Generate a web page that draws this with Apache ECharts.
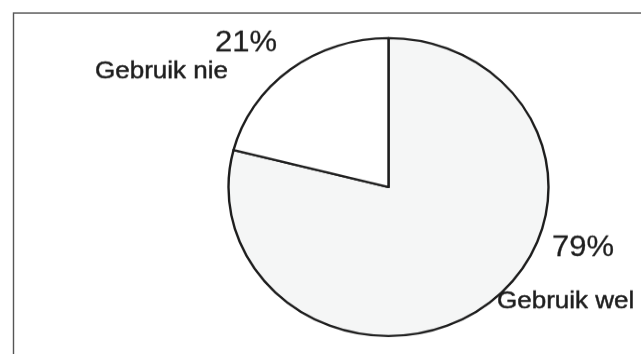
<!DOCTYPE html>
<html>
<head>
<meta charset="utf-8">
<script src="https://cdn.jsdelivr.net/npm/echarts@6/dist/echarts.min.js"></script>
<style>
  html, body { margin: 0; padding: 0; background: #ffffff; overflow: hidden; }
  #wrap { width: 641px; height: 354px; overflow: hidden; position: relative; }
  /* the pie is slightly flattened, so the drawing area is squeezed vertically */
  #chart { width: 641px; height: 380.2px; transform: scaleY(0.9311); transform-origin: 0 0; }
</style>
</head>
<body>
<div id="wrap"><div id="chart"></div></div>
<script>
// Share of respondents who use / do not use it
const categories = ['Gebruik wel', 'Gebruik nie'];
const values = [79, 21];

const sliceColors = ['#f5f6f6', '#ffffff'];
const textColor = '#1e1e1e';
const font = "'Liberation Sans', Arial, sans-serif";

// label placement per slice: block top-left, indent of the percentage line, name line height
const labelSpots = [
  { x: 497, y: 249, indent: 55, nameLine: 81.6 },
  { x: 95, y: 29, indent: 120, nameLine: 27.6 }
];

const chart = echarts.init(document.getElementById('chart'), null, { renderer: 'canvas' });

const data = categories.map((name, i) => ({
  name: name,
  value: values[i],
  itemStyle: { color: sliceColors[i] },
  label: {
    rich: {
      p: { fontSize: 31, lineHeight: 34, fontFamily: font, color: textColor, padding: [0, 0, 0, labelSpots[i].indent],
           textBorderColor: textColor, textBorderWidth: 0.3 },
      n: { fontSize: 26, lineHeight: labelSpots[i].nameLine, fontFamily: font, color: textColor,
           textBorderColor: textColor, textBorderWidth: 0.5 }
    }
  }
}));

chart.setOption({
  backgroundColor: '#ffffff',
  animation: false,
  graphic: [{
    type: 'rect',
    shape: { x: 13.5, y: 14, width: 800, height: 600 },
    style: { fill: 'none', stroke: '#555555', lineWidth: 1.4 },
    silent: true,
    z: 0
  }],
  series: [{
    type: 'pie',
    center: [388.5, 200.9],
    radius: 160,
    startAngle: 90,
    clockwise: true,
    avoidLabelOverlap: false,
    itemStyle: { borderColor: '#1e1e1e', borderWidth: 2.4 },
    emphasis: { disabled: true },
    label: {
      show: true,
      position: 'outside',
      formatter: '{p|{d}%}\n{n|{b}}',
      align: 'left'
    },
    labelLine: { show: false },
    labelLayout: function (params) {
      const s = labelSpots[params.dataIndex];
      return { x: s.x, y: s.y, align: 'left', verticalAlign: 'top', hideOverlap: false, moveOverlap: null };
    },
    data: data
  }]
});
</script>
</body>
</html>
